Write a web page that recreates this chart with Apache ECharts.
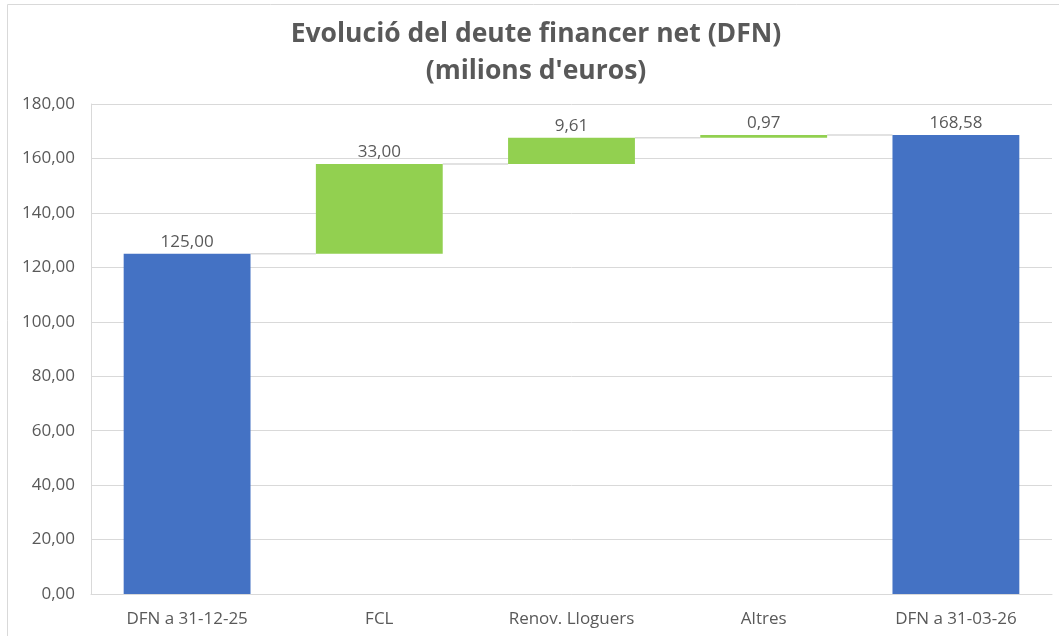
<!DOCTYPE html>
<html>
<head>
<meta charset="utf-8">
<script src="https://cdn.jsdelivr.net/npm/echarts@6/dist/echarts.min.js"></script>
<style>
  html, body { margin: 0; padding: 0; background: #fff; }
  #chart { width: 1059px; height: 636px; }
</style>
</head>
<body>
<div id="chart"></div>
<script>
const categories = ['DFN a 31-12-25', 'FCL', 'Renov. Lloguers', 'Altres', 'DFN a 31-03-26'];
const values = [125.00, 33.00, 9.61, 0.97, 168.58];
const bases = [0, 125.00, 158.00, 167.61, 0];
const isTotal = [true, false, false, false, true];
const yTicks = [0, 20, 40, 60, 80, 100, 120, 140, 160, 180];

const BLUE = '#4472c4';
const GREEN = '#92d050';
const TEXT = '#595959';

const fmt = v => v.toFixed(2).replace('.', ',');

const tops = values.map((v, i) => bases[i] + v);

const chart = echarts.init(document.getElementById('chart'));

const option = {
  animation: false,
  title: {
    text: 'Evolució del deute financer net (DFN)\n(milions d\'euros)',
    left: 531,
    top: 11,
    textAlign: 'center',
    textStyle: {
      fontFamily: 'Open Sans',
      fontWeight: 'bold',
      fontSize: 26.5,
      lineHeight: 37,
      color: TEXT
    }
  },
  graphic: [{
    type: 'rect',
    left: 7,
    top: 4,
    shape: { width: 1080, height: 660 },
    style: { fill: 'transparent', stroke: '#d9d9d9', lineWidth: 1 },
    silent: true
  }],
  grid: {
    left: 91,
    right: 7,
    top: 104,
    bottom: 42
  },
  xAxis: {
    type: 'category',
    data: categories,
    axisTick: { show: false },
    axisLine: { lineStyle: { color: '#d9d9d9' } },
    axisLabel: {
      margin: 17,
      fontFamily: 'Open Sans',
      fontSize: 17,
      color: TEXT
    }
  },
  yAxis: {
    type: 'value',
    min: yTicks[0],
    max: yTicks[yTicks.length - 1],
    interval: 20,
    axisLine: { show: true, lineStyle: { color: '#d9d9d9' } },
    axisTick: { show: false },
    splitLine: { lineStyle: { color: '#d9d9d9' } },
    axisLabel: {
      margin: 16,
      fontFamily: 'Open Sans',
      fontSize: 17,
      color: TEXT,
      formatter: v => fmt(v)
    }
  },
  series: [
    {
      name: 'base',
      type: 'bar',
      stack: 'wf',
      barWidth: '66%',
      itemStyle: { color: 'transparent' },
      emphasis: { disabled: true },
      data: bases
    },
    {
      name: 'valor',
      type: 'bar',
      stack: 'wf',
      barWidth: '66%',
      data: values.map((v, i) => ({
        value: v,
        itemStyle: { color: isTotal[i] ? BLUE : GREEN }
      })),
      label: {
        show: true,
        position: 'top',
        distance: 3,
        fontFamily: 'Open Sans',
        fontSize: 17,
        color: TEXT,
        formatter: p => fmt(p.value)
      }
    },
    {
      name: 'connectors',
      type: 'custom',
      silent: true,
      z: 1,
      data: tops.slice(0, -1).map((t, i) => [i, t]),
      renderItem: (params, api) => {
        const i = api.value(0);
        const level = api.value(1);
        const bandW = api.size([1, 0])[0];
        const half = bandW * 0.33;
        const p1 = api.coord([i, level]);
        const p2 = api.coord([i + 1, level]);
        return {
          type: 'line',
          shape: { x1: p1[0] + half, y1: p1[1], x2: p2[0] - half, y2: p2[1] },
          style: { stroke: '#d9d9d9', lineWidth: 1.5 }
        };
      }
    }
  ]
};

chart.setOption(option);
</script>
</body>
</html>
